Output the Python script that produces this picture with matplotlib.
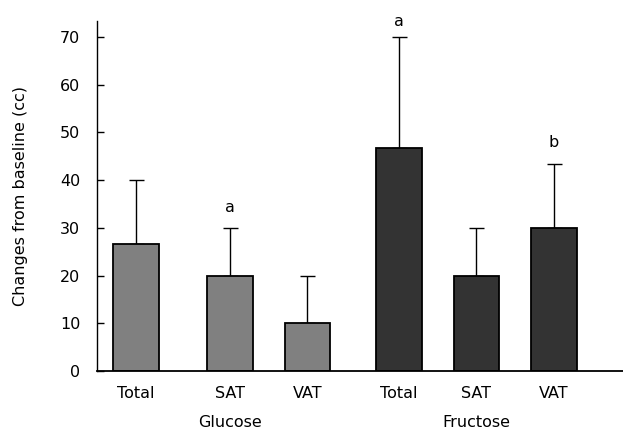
import matplotlib
matplotlib.use("Agg")
import matplotlib.pyplot as plt
import matplotlib.transforms as mtransforms

plt.rcParams['font.family'] = ['DejaVu Sans']

labels = ["Total", "SAT", "VAT", "Total", "SAT", "VAT"]
groups = ["Glucose", "Fructose"]
means = [26.7, 20.0, 10.0, 46.7, 20.0, 30.0]
upper_err = [13.3, 10.0, 10.0, 23.3, 10.0, 13.3]
bar_colors = ["#808080", "#808080", "#808080", "#333333", "#333333", "#333333"]
sig_letters = ["", "a", "", "a", "", "b"]

positions = [0, 1.21, 2.21, 3.39, 4.39, 5.39]
group_centers = [1.21, 4.39]
letter_offsets = [0, 9, 0, 6, 0, 10]

fig = plt.figure(figsize=(6.23, 4.30), dpi=100)
ax = fig.add_axes([0.1557, 0.1372, 1 - 0.1557, 0.9519 - 0.1372])

ax.bar(positions, means, width=0.59, color=bar_colors, edgecolor="black",
       linewidth=1.3, zorder=2)
ax.errorbar(positions, means, yerr=[[0] * len(means), upper_err], fmt="none",
            ecolor="black", elinewidth=1.0, capsize=5.4, capthick=1.0, zorder=1)

for x, m, e, s, off in zip(positions, means, upper_err, sig_letters, letter_offsets):
    if s:
        ax.annotate(s, xy=(x, m + e), xytext=(0, off), textcoords="offset points",
                    ha="center", va="bottom", fontsize=11.5)

ax.set_xlim(-0.503, 6.28)
ax.set_ylim(0, 73.4)
ax.set_yticks(range(0, 71, 10))
ax.set_xticks(positions)
ax.set_xticklabels(labels, fontsize=11.5)
ax.tick_params(axis="y", direction="in", length=5, width=1, pad=12, labelsize=11.5)
ax.tick_params(axis="x", length=0, pad=11)
ax.spines["top"].set_visible(False)
ax.spines["right"].set_visible(False)
ax.spines["left"].set_linewidth(1.0)
ax.spines["bottom"].set_linewidth(1.3)

trans = mtransforms.blended_transform_factory(ax.transData, ax.transAxes)
for gx, g in zip(group_centers, groups):
    ax.text(gx, -0.148, g, transform=trans, ha="center", va="center", fontsize=11.5)

ax.set_ylabel("Changes from baseline (cc)", fontsize=11.5, labelpad=23)

fig.savefig("out.png", dpi=100)
